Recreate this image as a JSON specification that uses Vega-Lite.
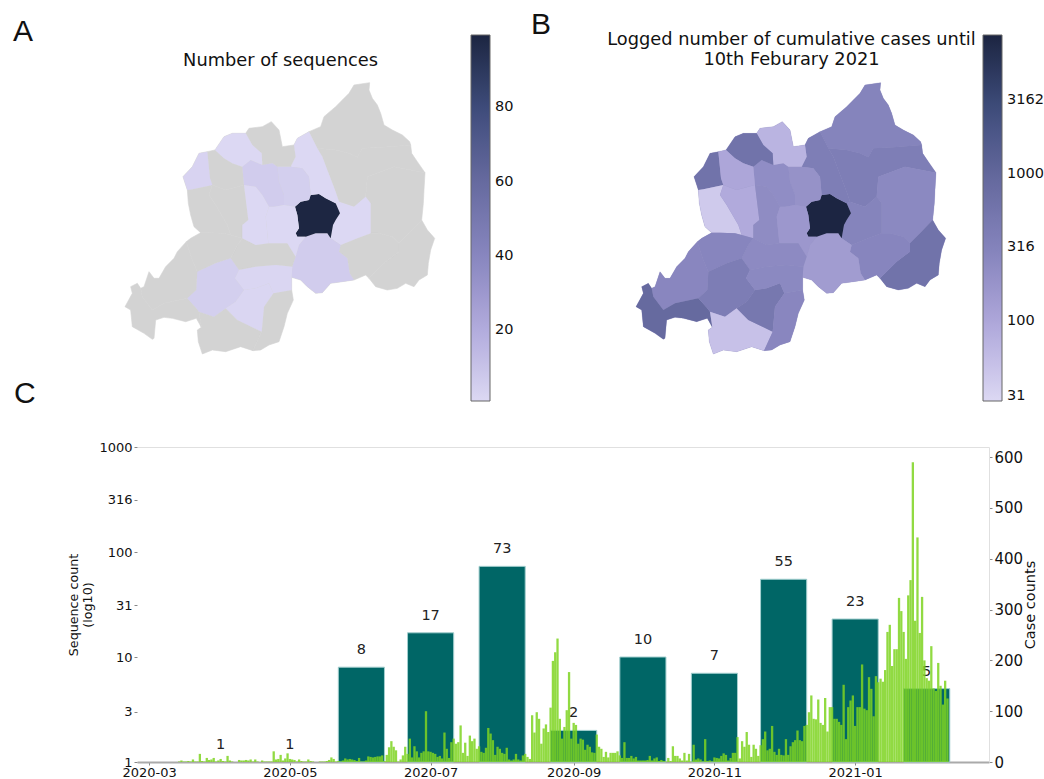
{
"$schema":"https://vega.github.io/schema/vega-lite/v6.json",
"background":"white",
"padding":{"left":13,"top":10,"right":0,"bottom":0},
"config":{"view":{"stroke":null},"font":"DejaVu Sans","text":{"font":"DejaVu Sans"},"axis":{"labelFont":"DejaVu Sans","titleFont":"DejaVu Sans"},"legend":{"labelFont":"DejaVu Sans"}},
"title":{"text":"A","anchor":"start","frame":"group","font":"Liberation Sans","fontSize":30,"fontWeight":"normal","color":"#111","dx":-124,"offset":-37},
"bounds":"flush",
"spacing":377,
"resolve":{"scale":{"color":"independent"},"legend":{"color":"independent"}},
"vconcat":[
{"title":{"text":"B","anchor":"start","frame":"group","font":"Liberation Sans","fontSize":30,"fontWeight":"normal","color":"#111","dx":394,"offset":-9},
"bounds":"flush","spacing":148,
"resolve":{"scale":{"color":"independent"},"legend":{"color":"independent"}},
"hconcat":[
{"width":363,"height":310,
"title":{"text":"Number of sequences","anchor":"middle","font":"DejaVu Sans","fontSize":17.8,"fontWeight":"normal","color":"#111","dx":-38,"offset":-35},
"projection":{"type":"identity","scale":0.33333,"translate":[-28,0]},
"data":{"name":"districts"},
"layer":[
{"mark":{"type":"geoshape","clip":false,"fill":"#d3d3d3","stroke":"#d3d3d3","strokeWidth":0.6},"encoding":{"shape":{"field":"geo","type":"geojson"}}},
{"transform":[{"filter":"datum.seq != null"}],"mark":{"type":"geoshape","clip":false},"encoding":{"shape":{"field":"geo","type":"geojson"},
"color":{"field":"seq","type":"quantitative","scale":{"type":"linear","domain":[1,99.4],"nice":false,"interpolate":"rgb","range":["#dcd8f3","#b1aadc","#8785be","#666a9f","#3e4c7b","#1c2541"]},
"legend":{"title":null,"orient":"none","legendX":334,"legendY":-35,"direction":"vertical","gradientLength":366,"gradientThickness":19,"gradientStrokeColor":"#666","gradientStrokeWidth":1,"values":[20,40,60,80],"labelFontSize":14.5,"labelColor":"#111","labelOffset":5,"labelOverlap":false}}}}
]},
{"width":363,"height":310,
"title":{"text":["Logged number of cumulative cases until","10th Feburary 2021"],"anchor":"middle","font":"DejaVu Sans","fontSize":17.8,"lineHeight":20,"fontWeight":"normal","color":"#111","dx":-38,"offset":-34},
"projection":{"type":"identity","scale":0.33333,"translate":[-28,0]},
"data":{"name":"districts"},
"layer":[
{"mark":{"type":"geoshape","clip":false,"fill":"#8f8dc0","stroke":"#8f8dc0","strokeWidth":0.3},"encoding":{"shape":{"field":"geo","type":"geojson"}}},
{"mark":{"type":"geoshape","clip":false},"encoding":{"shape":{"field":"geo","type":"geojson"},
"color":{"field":"cases","type":"quantitative","scale":{"type":"log","domain":[28.5,8800],"nice":false,"interpolate":"rgb","range":["#dcd8f3","#b1aadc","#8785be","#666a9f","#3e4c7b","#1c2541"]},
"legend":{"title":null,"orient":"none","legendX":335,"legendY":-35,"direction":"vertical","gradientLength":366,"gradientThickness":19,"gradientStrokeColor":"#666","gradientStrokeWidth":1,"values":[31,100,316,1000,3162],"format":"d","labelFontSize":14.5,"labelColor":"#111","labelOffset":5,"labelOverlap":false}}}}
]}
]},
{"width":852,"height":315,
"title":{"text":"C","anchor":"start","frame":"group","font":"Liberation Sans","fontSize":30,"fontWeight":"normal","color":"#111","dx":-123,"offset":32},
"resolve":{"scale":{"y":"independent"},"axis":{"x":"independent"}},
"layer":[
{"layer":[
{"data":{"name":"monthly"},"transform":[{"filter":"datum.seq > 1"}],
"mark":{"type":"rect","fill":"#006666","stroke":"#a3cfcf","strokeWidth":1},
"encoding":{
"x":{"field":"start","type":"temporal","scale":{"type":"utc","domain":["2020-02-24T18:00:00Z","2021-02-28T00:00:00Z"],"nice":false,"padding":0},"title":null,"axis":{"orient":"bottom","values":["2020-03-01","2020-05-01","2020-07-01","2020-09-01","2020-11-01","2021-01-01"],"format":"%Y-%m","labelFontSize":13,"labelColor":"#111","labelPadding":1,"tickSize":3,"tickColor":"#888","domainColor":"#aaa","domainWidth":2,"grid":false,"labelFlush":false}},
"x2":{"field":"end"},
"y":{"field":"seq","type":"quantitative","scale":{"type":"log","domain":[1,1000],"nice":false},"title":["Sequence count","(log10)"],"axis":{"orient":"left","values":[1,3,10,31,100,316,1000],"format":"d","labelFontSize":13,"labelColor":"#111","tickSize":3,"tickColor":"#888","domain":false,"grid":false,"titleFontSize":12.7,"titleFontWeight":"normal","titleColor":"#111","titlePadding":4,"labelOverlap":false}},
"y2":{"datum":1}
}},
{"data":{"name":"monthly"},
"mark":{"type":"text","fontSize":14.5,"color":"#222","dy":-17,"baseline":"middle","align":"center"},
"encoding":{
"x":{"field":"month","type":"temporal"},
"y":{"field":"seq","type":"quantitative"},
"text":{"field":"seq","type":"quantitative"}
}}
]},
{"data":{"name":"daily"},
"mark":{"type":"bar","width":2.3,"fill":"#7ed321","opacity":0.85},
"encoding":{
"x":{"field":"date","type":"temporal","title":null,"axis":{"orient":"top","labels":false,"ticks":false,"domainColor":"#e0e0e0","grid":false}},
"y":{"field":"cases","type":"quantitative","scale":{"domain":[0,620],"nice":false},"title":"Case counts","axis":{"orient":"right","values":[0,100,200,300,400,500,600],"labelFontSize":15,"labelColor":"#111","tickSize":3,"tickColor":"#888","domainColor":"#e0e0e0","grid":false,"titleFontSize":14.5,"titleFontWeight":"normal","titleColor":"#111","titlePadding":15,"titleAngle":270}}
}}
]}
],
"datasets":{
"monthly":[
{"month":"2020-04-01","start":"2020-03-22","end":"2020-04-11","seq":1},
{"month":"2020-05-01","start":"2020-04-21","end":"2020-05-11","seq":1},
{"month":"2020-06-01","start":"2020-05-22","end":"2020-06-11","seq":8},
{"month":"2020-07-01","start":"2020-06-21","end":"2020-07-11","seq":17},
{"month":"2020-08-01","start":"2020-07-22","end":"2020-08-11","seq":73},
{"month":"2020-09-01","start":"2020-08-22","end":"2020-09-11","seq":2},
{"month":"2020-10-01","start":"2020-09-21","end":"2020-10-11","seq":10},
{"month":"2020-11-01","start":"2020-10-22","end":"2020-11-11","seq":7},
{"month":"2020-12-01","start":"2020-11-21","end":"2020-12-11","seq":55},
{"month":"2021-01-01","start":"2020-12-22","end":"2021-01-11","seq":23},
{"month":"2021-02-01","start":"2021-01-22","end":"2021-02-11","seq":5}
],
"districts":[
{"name":"Nyagatare","cases":300,"geo":{"type":"Feature","geometry":{"type":"Polygon","coordinates":[[[600,185],[635,170],[645,140],[680,110],[700,90],[720,70],[735,45],[782,38],[780,60],[790,85],[805,105],[815,130],[825,165],[850,180],[880,195],[902,215],[905,225],[820,232],[760,235],[745,262],[720,250],[680,240],[625,235],[600,185]]]}}},
{"name":"Gatsibo","cases":380,"geo":{"type":"Feature","geometry":{"type":"Polygon","coordinates":[[[625,235],[680,240],[720,250],[745,262],[760,235],[820,232],[905,225],[908,250],[925,275],[948,308],[855,290],[775,320],[770,380],[735,410],[690,395],[680,365],[655,300],[640,260],[625,235]]]}}},
{"name":"Kayonza","cases":250,"geo":{"type":"Feature","geometry":{"type":"Polygon","coordinates":[[[948,308],[945,360],[943,400],[938,450],[900,490],[870,520],[850,500],[810,490],[785,490],[785,400],[770,380],[775,320],[855,290],[948,308]]]}}},
{"name":"Kirehe","cases":600,"geo":{"type":"Feature","geometry":{"type":"Polygon","coordinates":[[[938,450],[955,480],[977,505],[965,540],[958,580],[955,615],[930,630],[915,650],[890,640],[865,655],[835,660],[800,650],[780,625],[830,575],[870,545],[870,520],[900,490],[938,450]]]}}},
{"name":"Ngoma","cases":280,"geo":{"type":"Feature","geometry":{"type":"Polygon","coordinates":[[[785,490],[810,490],[850,500],[870,520],[870,545],[830,575],[780,625],[770,615],[735,630],[722,610],[715,565],[690,545],[695,525],[745,505],[785,490]]]}}},
{"name":"Rwamagana","seq":1,"cases":300,"geo":{"type":"Feature","geometry":{"type":"Polygon","coordinates":[[[690,395],[735,410],[770,380],[785,400],[785,490],[745,505],[695,525],[665,505],[672,465],[680,450],[693,430],[680,400],[690,395]]]}}},
{"name":"Bugesera","seq":6,"cases":140,"geo":{"type":"Feature","geometry":{"type":"Polygon","coordinates":[[[570,525],[590,500],[620,490],[655,490],[665,505],[695,525],[690,545],[715,565],[722,610],[735,630],[700,635],[665,640],[640,668],[620,670],[595,650],[575,630],[548,622],[550,590],[560,560],[570,525]]]}}},
{"name":"Kigali","seq":99,"cases":8700,"geo":{"type":"Feature","geometry":{"type":"Polygon","coordinates":[[[630,372],[650,385],[680,400],[693,430],[680,450],[672,465],[665,505],[655,490],[620,490],[590,500],[565,500],[560,490],[570,475],[565,435],[558,410],[575,395],[600,390],[605,375],[630,372]]]}}},
{"name":"Gicumbi","seq":1,"cases":380,"geo":{"type":"Feature","geometry":{"type":"Polygon","coordinates":[[[555,225],[565,205],[600,185],[625,235],[640,260],[655,300],[680,365],[690,395],[680,400],[650,385],[630,372],[605,375],[600,320],[580,295],[545,290],[560,260],[555,225]]]}}},
{"name":"Rulindo","seq":5,"cases":190,"geo":{"type":"Feature","geometry":{"type":"Polygon","coordinates":[[[505,290],[545,290],[580,295],[600,320],[605,375],[600,390],[575,395],[558,410],[525,405],[525,375],[510,335],[505,290]]]}}},
{"name":"Gakenke","seq":6,"cases":220,"geo":{"type":"Feature","geometry":{"type":"Polygon","coordinates":[[[400,290],[425,270],[460,285],[490,280],[505,290],[510,335],[525,375],[525,405],[495,410],[480,410],[460,375],[440,350],[405,345],[400,290]]]}}},
{"name":"Burera","cases":70,"geo":{"type":"Feature","geometry":{"type":"Polygon","coordinates":[[[410,190],[420,175],[460,170],[487,155],[510,180],[520,230],[555,225],[560,260],[545,290],[505,290],[490,280],[460,285],[458,250],[430,225],[410,190]]]}}},
{"name":"Musanze","seq":1,"cases":600,"geo":{"type":"Feature","geometry":{"type":"Polygon","coordinates":[[[370,190],[410,190],[430,225],[458,250],[460,285],[425,270],[400,290],[370,280],[345,265],[318,240],[345,200],[370,190]]]}}},
{"name":"Rubavu","seq":3,"cases":600,"geo":{"type":"Feature","geometry":{"type":"Polygon","coordinates":[[[270,250],[295,245],[303,325],[310,345],[250,358],[235,360],[222,320],[250,290],[270,250]]]}}},
{"name":"Nyabihu","cases":100,"geo":{"type":"Feature","geometry":{"type":"Polygon","coordinates":[[[295,245],[318,240],[345,265],[370,280],[400,290],[405,345],[350,360],[310,345],[303,325],[295,245]]]}}},
{"name":"Rutsiro","cases":40,"geo":{"type":"Feature","geometry":{"type":"Polygon","coordinates":[[[235,360],[250,358],[310,345],[300,375],[320,405],[355,465],[365,495],[345,490],[300,488],[275,488],[255,470],[245,435],[238,400],[235,360]]]}}},
{"name":"Ngororero","cases":90,"geo":{"type":"Feature","geometry":{"type":"Polygon","coordinates":[[[310,345],[350,360],[405,345],[418,450],[400,465],[400,505],[365,495],[355,465],[320,405],[300,375],[310,345]]]}}},
{"name":"Muhanga","seq":1,"cases":230,"geo":{"type":"Feature","geometry":{"type":"Polygon","coordinates":[[[405,345],[440,350],[460,375],[480,410],[470,440],[478,520],[440,525],[400,505],[400,465],[418,450],[405,345]]]}}},
{"name":"Kamonyi","seq":1,"cases":160,"geo":{"type":"Feature","geometry":{"type":"Polygon","coordinates":[[[480,410],[495,410],[525,405],[558,410],[565,435],[570,475],[560,490],[565,500],[590,500],[570,525],[560,560],[535,520],[478,520],[470,440],[480,410]]]}}},
{"name":"Ruhango","cases":240,"geo":{"type":"Feature","geometry":{"type":"Polygon","coordinates":[[[400,505],[440,525],[478,520],[535,520],[560,560],[550,590],[500,585],[440,590],[390,600],[365,565],[385,525],[400,505]]]}}},
{"name":"Karongi","cases":280,"geo":{"type":"Feature","geometry":{"type":"Polygon","coordinates":[[[275,488],[300,488],[345,490],[365,495],[400,505],[385,525],[365,565],[320,580],[265,605],[250,570],[240,540],[232,515],[245,505],[275,488]]]}}},
{"name":"Nyamasheke","cases":270,"geo":{"type":"Feature","geometry":{"type":"Polygon","coordinates":[[[232,515],[240,540],[250,570],[265,605],[262,660],[235,685],[165,700],[130,720],[100,680],[95,655],[105,650],[120,605],[135,625],[150,625],[170,590],[195,565],[205,545],[232,515]]]}}},
{"name":"Rusizi","cases":900,"geo":{"type":"Feature","geometry":{"type":"Polygon","coordinates":[[[65,650],[85,640],[95,655],[100,680],[130,720],[165,700],[235,685],[262,715],[270,725],[277,772],[262,745],[230,755],[190,745],[165,742],[140,750],[135,805],[130,808],[105,790],[70,770],[65,720],[48,710],[70,670],[65,650]]]}}},
{"name":"Nyamagabe","seq":5,"cases":400,"geo":{"type":"Feature","geometry":{"type":"Polygon","coordinates":[[[235,685],[262,660],[265,605],[320,580],[365,565],[390,600],[378,625],[405,660],[380,695],[350,715],[315,740],[270,725],[262,715],[235,685]]]}}},
{"name":"Nyaruguru","cases":50,"geo":{"type":"Feature","geometry":{"type":"Polygon","coordinates":[[[270,725],[315,740],[350,715],[385,750],[458,785],[432,842],[395,830],[350,845],[310,840],[280,852],[268,815],[265,780],[277,772],[270,725]]]}}},
{"name":"Huye","seq":2,"cases":500,"geo":{"type":"Feature","geometry":{"type":"Polygon","coordinates":[[[380,695],[405,660],[440,655],[480,640],[493,670],[465,710],[458,785],[385,750],[350,715],[380,695]]]}}},
{"name":"Gisagara","cases":270,"geo":{"type":"Feature","geometry":{"type":"Polygon","coordinates":[[[493,670],[548,660],[553,690],[535,730],[525,770],[510,815],[480,825],[455,840],[432,842],[458,785],[465,710],[493,670]]]}}},
{"name":"Nyanza","seq":2,"cases":250,"geo":{"type":"Feature","geometry":{"type":"Polygon","coordinates":[[[390,600],[440,590],[500,585],[550,590],[548,622],[548,660],[493,670],[480,640],[440,655],[405,660],[378,625],[390,600]]]}}}
],
"daily":[
{"date":"2020-03-14","cases":1},{"date":"2020-03-15","cases":3},{"date":"2020-03-16","cases":1},{"date":"2020-03-17","cases":1},{"date":"2020-03-18","cases":2},{"date":"2020-03-19","cases":1},{"date":"2020-03-20","cases":5},{"date":"2020-03-21","cases":1},{"date":"2020-03-22","cases":1},{"date":"2020-03-23","cases":16},{"date":"2020-03-24","cases":2},{"date":"2020-03-25","cases":1},{"date":"2020-03-26","cases":8},{"date":"2020-03-27","cases":4},{"date":"2020-03-28","cases":5},{"date":"2020-03-29","cases":8},{"date":"2020-03-30","cases":1},{"date":"2020-03-31","cases":3},
{"date":"2020-04-01","cases":6},{"date":"2020-04-02","cases":2},{"date":"2020-04-03","cases":1},{"date":"2020-04-04","cases":12},{"date":"2020-04-05","cases":3},{"date":"2020-04-06","cases":1},{"date":"2020-04-07","cases":0},{"date":"2020-04-08","cases":0},{"date":"2020-04-09","cases":4},{"date":"2020-04-10","cases":3},{"date":"2020-04-11","cases":3},{"date":"2020-04-12","cases":4},{"date":"2020-04-13","cases":3},{"date":"2020-04-14","cases":5},{"date":"2020-04-15","cases":1},{"date":"2020-04-16","cases":5},{"date":"2020-04-17","cases":1},{"date":"2020-04-18","cases":0},{"date":"2020-04-19","cases":3},{"date":"2020-04-20","cases":1},{"date":"2020-04-21","cases":1},{"date":"2020-04-22","cases":1},{"date":"2020-04-23","cases":1},{"date":"2020-04-24","cases":21},{"date":"2020-04-25","cases":5},{"date":"2020-04-26","cases":6},{"date":"2020-04-27","cases":14},{"date":"2020-04-28","cases":3},{"date":"2020-04-29","cases":7},{"date":"2020-04-30","cases":17},
{"date":"2020-05-01","cases":6},{"date":"2020-05-02","cases":5},{"date":"2020-05-03","cases":4},{"date":"2020-05-04","cases":1},{"date":"2020-05-05","cases":5},{"date":"2020-05-06","cases":2},{"date":"2020-05-07","cases":1},{"date":"2020-05-08","cases":1},{"date":"2020-05-09","cases":5},{"date":"2020-05-10","cases":2},{"date":"2020-05-11","cases":1},{"date":"2020-05-12","cases":0},{"date":"2020-05-13","cases":0},{"date":"2020-05-14","cases":1},{"date":"2020-05-15","cases":1},{"date":"2020-05-16","cases":1},{"date":"2020-05-17","cases":2},{"date":"2020-05-18","cases":4},{"date":"2020-05-19","cases":9},{"date":"2020-05-20","cases":6},{"date":"2020-05-21","cases":1},{"date":"2020-05-22","cases":2},{"date":"2020-05-23","cases":1},{"date":"2020-05-24","cases":3},{"date":"2020-05-25","cases":7},{"date":"2020-05-26","cases":5},{"date":"2020-05-27","cases":6},{"date":"2020-05-28","cases":5},{"date":"2020-05-29","cases":4},{"date":"2020-05-30","cases":2},{"date":"2020-05-31","cases":8},
{"date":"2020-06-01","cases":1},{"date":"2020-06-02","cases":1},{"date":"2020-06-03","cases":3},{"date":"2020-06-04","cases":11},{"date":"2020-06-05","cases":10},{"date":"2020-06-06","cases":9},{"date":"2020-06-07","cases":10},{"date":"2020-06-08","cases":11},{"date":"2020-06-09","cases":11},{"date":"2020-06-10","cases":13},{"date":"2020-06-11","cases":2},{"date":"2020-06-12","cases":14},{"date":"2020-06-13","cases":29},{"date":"2020-06-14","cases":41},{"date":"2020-06-15","cases":30},{"date":"2020-06-16","cases":23},{"date":"2020-06-17","cases":1},{"date":"2020-06-18","cases":5},{"date":"2020-06-19","cases":13},{"date":"2020-06-20","cases":30},{"date":"2020-06-21","cases":16},{"date":"2020-06-22","cases":46},{"date":"2020-06-23","cases":9},{"date":"2020-06-24","cases":31},{"date":"2020-06-25","cases":21},{"date":"2020-06-26","cases":9},{"date":"2020-06-27","cases":18},{"date":"2020-06-28","cases":21},{"date":"2020-06-29","cases":100},{"date":"2020-06-30","cases":21},
{"date":"2020-07-01","cases":20},{"date":"2020-07-02","cases":18},{"date":"2020-07-03","cases":16},{"date":"2020-07-04","cases":10},{"date":"2020-07-05","cases":12},{"date":"2020-07-06","cases":7},{"date":"2020-07-07","cases":58},{"date":"2020-07-08","cases":26},{"date":"2020-07-09","cases":8},{"date":"2020-07-10","cases":39},{"date":"2020-07-11","cases":46},{"date":"2020-07-12","cases":36},{"date":"2020-07-13","cases":39},{"date":"2020-07-14","cases":72},{"date":"2020-07-15","cases":18},{"date":"2020-07-16","cases":38},{"date":"2020-07-17","cases":12},{"date":"2020-07-18","cases":52},{"date":"2020-07-19","cases":41},{"date":"2020-07-20","cases":46},{"date":"2020-07-21","cases":26},{"date":"2020-07-22","cases":31},{"date":"2020-07-23","cases":20},{"date":"2020-07-24","cases":18},{"date":"2020-07-25","cases":28},{"date":"2020-07-26","cases":67},{"date":"2020-07-27","cases":56},{"date":"2020-07-28","cases":43},{"date":"2020-07-29","cases":14},{"date":"2020-07-30","cases":30},{"date":"2020-07-31","cases":26},
{"date":"2020-08-01","cases":18},{"date":"2020-08-02","cases":16},{"date":"2020-08-03","cases":28},{"date":"2020-08-04","cases":5},{"date":"2020-08-05","cases":3},{"date":"2020-08-06","cases":5},{"date":"2020-08-07","cases":16},{"date":"2020-08-08","cases":5},{"date":"2020-08-09","cases":3},{"date":"2020-08-10","cases":13},{"date":"2020-08-11","cases":16},{"date":"2020-08-12","cases":10},{"date":"2020-08-13","cases":6},{"date":"2020-08-14","cases":92},{"date":"2020-08-15","cases":58},{"date":"2020-08-16","cases":98},{"date":"2020-08-17","cases":85},{"date":"2020-08-18","cases":36},{"date":"2020-08-19","cases":66},{"date":"2020-08-20","cases":74},{"date":"2020-08-21","cases":59},{"date":"2020-08-22","cases":107},{"date":"2020-08-23","cases":199},{"date":"2020-08-24","cases":216},{"date":"2020-08-25","cases":243},{"date":"2020-08-26","cases":85},{"date":"2020-08-27","cases":46},{"date":"2020-08-28","cases":69},{"date":"2020-08-29","cases":102},{"date":"2020-08-30","cases":177},{"date":"2020-08-31","cases":46},
{"date":"2020-09-01","cases":77},{"date":"2020-09-02","cases":73},{"date":"2020-09-03","cases":36},{"date":"2020-09-04","cases":46},{"date":"2020-09-05","cases":44},{"date":"2020-09-06","cases":24},{"date":"2020-09-07","cases":34},{"date":"2020-09-08","cases":30},{"date":"2020-09-09","cases":19},{"date":"2020-09-10","cases":18},{"date":"2020-09-11","cases":54},{"date":"2020-09-12","cases":30},{"date":"2020-09-13","cases":26},{"date":"2020-09-14","cases":10},{"date":"2020-09-15","cases":20},{"date":"2020-09-16","cases":9},{"date":"2020-09-17","cases":18},{"date":"2020-09-18","cases":18},{"date":"2020-09-19","cases":18},{"date":"2020-09-20","cases":21},{"date":"2020-09-21","cases":13},{"date":"2020-09-22","cases":8},{"date":"2020-09-23","cases":39},{"date":"2020-09-24","cases":8},{"date":"2020-09-25","cases":8},{"date":"2020-09-26","cases":12},{"date":"2020-09-27","cases":7},{"date":"2020-09-28","cases":10},{"date":"2020-09-29","cases":3},{"date":"2020-09-30","cases":3},
{"date":"2020-10-01","cases":3},{"date":"2020-10-02","cases":3},{"date":"2020-10-03","cases":4},{"date":"2020-10-04","cases":12},{"date":"2020-10-05","cases":3},{"date":"2020-10-06","cases":7},{"date":"2020-10-07","cases":9},{"date":"2020-10-08","cases":2},{"date":"2020-10-09","cases":4},{"date":"2020-10-10","cases":2},{"date":"2020-10-11","cases":1},{"date":"2020-10-12","cases":8},{"date":"2020-10-13","cases":2},{"date":"2020-10-14","cases":31},{"date":"2020-10-15","cases":12},{"date":"2020-10-16","cases":12},{"date":"2020-10-17","cases":7},{"date":"2020-10-18","cases":3},{"date":"2020-10-19","cases":18},{"date":"2020-10-20","cases":3},{"date":"2020-10-21","cases":16},{"date":"2020-10-22","cases":1},{"date":"2020-10-23","cases":34},{"date":"2020-10-24","cases":5},{"date":"2020-10-25","cases":7},{"date":"2020-10-26","cases":5},{"date":"2020-10-27","cases":1},{"date":"2020-10-28","cases":45},{"date":"2020-10-29","cases":2},{"date":"2020-10-30","cases":3},{"date":"2020-10-31","cases":1},
{"date":"2020-11-01","cases":9},{"date":"2020-11-02","cases":8},{"date":"2020-11-03","cases":7},{"date":"2020-11-04","cases":12},{"date":"2020-11-05","cases":17},{"date":"2020-11-06","cases":14},{"date":"2020-11-07","cases":3},{"date":"2020-11-08","cases":8},{"date":"2020-11-09","cases":18},{"date":"2020-11-10","cases":18},{"date":"2020-11-11","cases":49},{"date":"2020-11-12","cases":7},{"date":"2020-11-13","cases":41},{"date":"2020-11-14","cases":30},{"date":"2020-11-15","cases":59},{"date":"2020-11-16","cases":34},{"date":"2020-11-17","cases":10},{"date":"2020-11-18","cases":34},{"date":"2020-11-19","cases":26},{"date":"2020-11-20","cases":12},{"date":"2020-11-21","cases":33},{"date":"2020-11-22","cases":45},{"date":"2020-11-23","cases":60},{"date":"2020-11-24","cases":23},{"date":"2020-11-25","cases":26},{"date":"2020-11-26","cases":71},{"date":"2020-11-27","cases":20},{"date":"2020-11-28","cases":14},{"date":"2020-11-29","cases":26},{"date":"2020-11-30","cases":14},
{"date":"2020-12-01","cases":13},{"date":"2020-12-02","cases":45},{"date":"2020-12-03","cases":14},{"date":"2020-12-04","cases":31},{"date":"2020-12-05","cases":39},{"date":"2020-12-06","cases":43},{"date":"2020-12-07","cases":62},{"date":"2020-12-08","cases":43},{"date":"2020-12-09","cases":41},{"date":"2020-12-10","cases":71},{"date":"2020-12-11","cases":73},{"date":"2020-12-12","cases":98},{"date":"2020-12-13","cases":131},{"date":"2020-12-14","cases":85},{"date":"2020-12-15","cases":84},{"date":"2020-12-16","cases":123},{"date":"2020-12-17","cases":77},{"date":"2020-12-18","cases":73},{"date":"2020-12-19","cases":126},{"date":"2020-12-20","cases":60},{"date":"2020-12-21","cases":108},{"date":"2020-12-22","cases":108},{"date":"2020-12-23","cases":85},{"date":"2020-12-24","cases":85},{"date":"2020-12-25","cases":79},{"date":"2020-12-26","cases":73},{"date":"2020-12-27","cases":152},{"date":"2020-12-28","cases":45},{"date":"2020-12-29","cases":108},{"date":"2020-12-30","cases":121},{"date":"2020-12-31","cases":131},
{"date":"2021-01-01","cases":71},{"date":"2021-01-02","cases":108},{"date":"2021-01-03","cases":108},{"date":"2021-01-04","cases":192},{"date":"2021-01-05","cases":105},{"date":"2021-01-06","cases":102},{"date":"2021-01-07","cases":167},{"date":"2021-01-08","cases":144},{"date":"2021-01-09","cases":90},{"date":"2021-01-10","cases":169},{"date":"2021-01-11","cases":157},{"date":"2021-01-12","cases":164},{"date":"2021-01-13","cases":158},{"date":"2021-01-14","cases":181},{"date":"2021-01-15","cases":256},{"date":"2021-01-16","cases":270},{"date":"2021-01-17","cases":189},{"date":"2021-01-18","cases":222},{"date":"2021-01-19","cases":222},{"date":"2021-01-20","cases":323},{"date":"2021-01-21","cases":297},{"date":"2021-01-22","cases":256},{"date":"2021-01-23","cases":203},{"date":"2021-01-24","cases":328},{"date":"2021-01-25","cases":358},{"date":"2021-01-26","cases":590},{"date":"2021-01-27","cases":278},{"date":"2021-01-28","cases":442},{"date":"2021-01-29","cases":254},{"date":"2021-01-30","cases":325},{"date":"2021-01-31","cases":200},
{"date":"2021-02-01","cases":165},{"date":"2021-02-02","cases":160},{"date":"2021-02-03","cases":228},{"date":"2021-02-04","cases":145},{"date":"2021-02-05","cases":140},{"date":"2021-02-06","cases":195},{"date":"2021-02-07","cases":150},{"date":"2021-02-08","cases":113},{"date":"2021-02-09","cases":160},{"date":"2021-02-10","cases":125}
]
}
}
